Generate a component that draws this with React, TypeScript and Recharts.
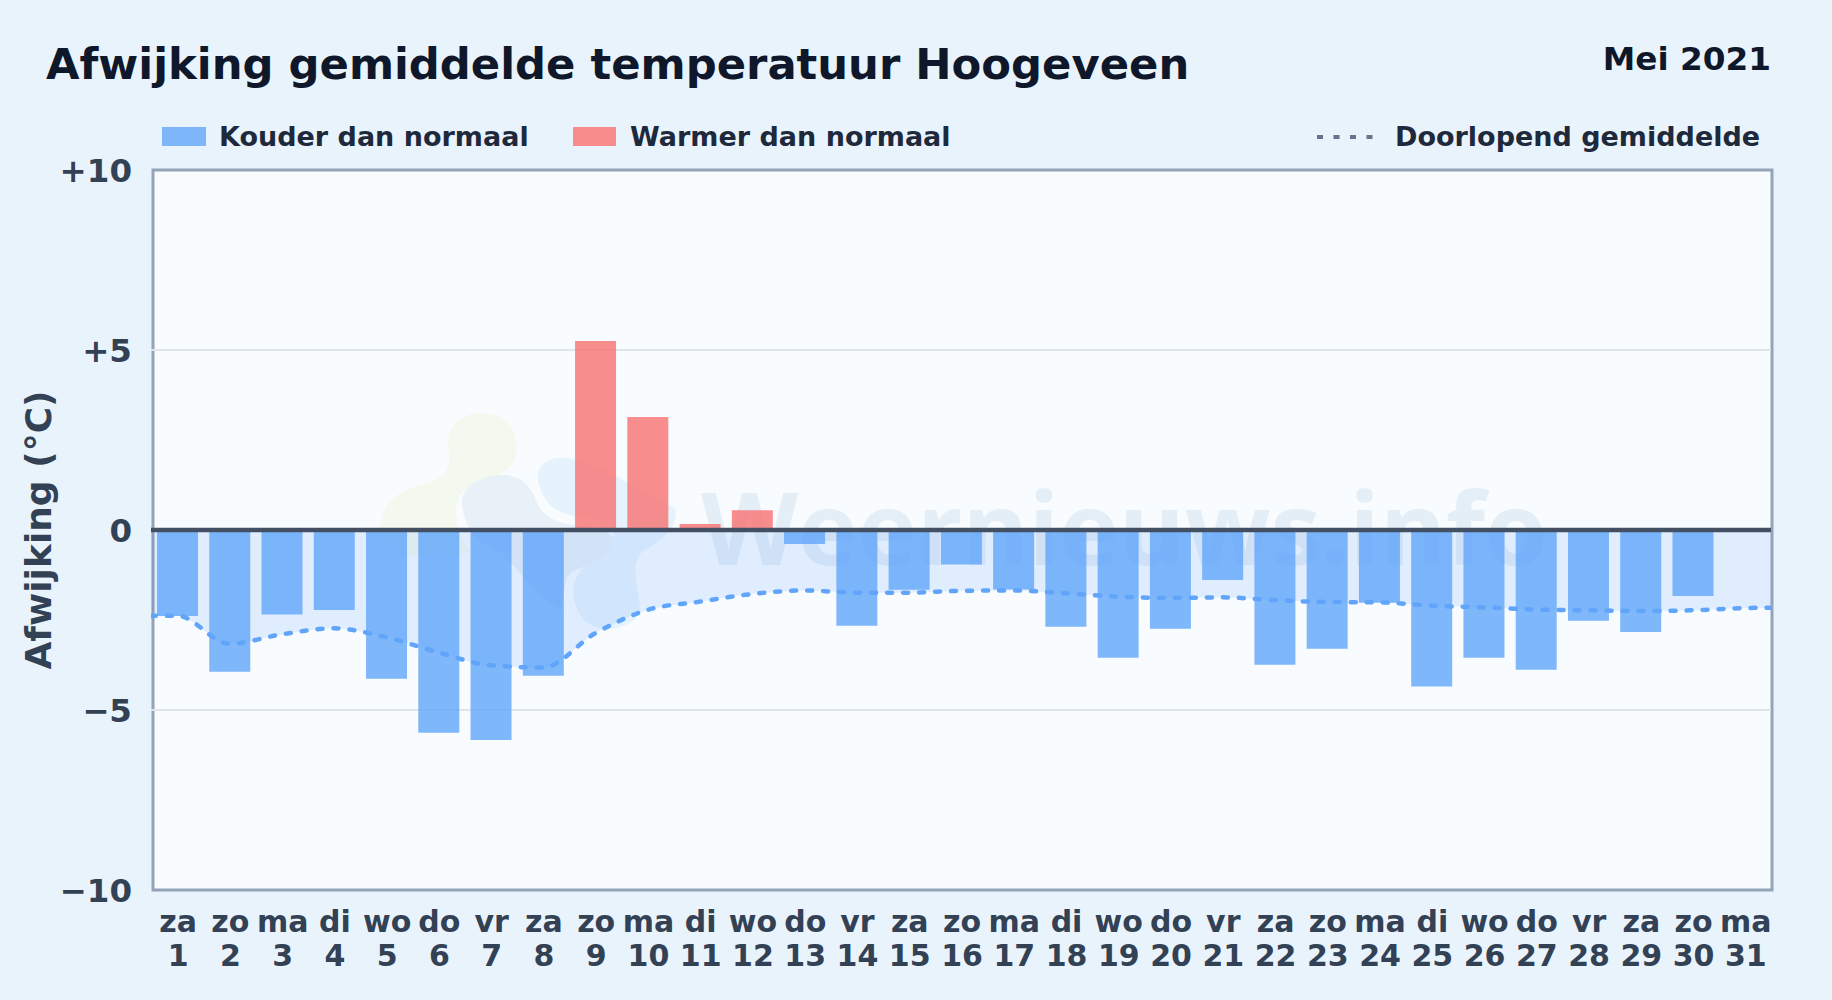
import { Area, Bar, CartesianGrid, Cell, ComposedChart, Line, ReferenceLine, XAxis, YAxis } from "recharts"

const days = [1, 2, 3, 4, 5, 6, 7, 8, 9, 10, 11, 12, 13, 14, 15, 16, 17, 18, 19, 20, 21, 22, 23, 24, 25, 26, 27, 28, 29, 30, 31]
const weekdays = ["za", "zo", "ma", "di", "wo", "do", "vr", "za", "zo", "ma", "di", "wo", "do", "vr", "za", "zo", "ma", "di", "wo", "do", "vr", "za", "zo", "ma", "di", "wo", "do", "vr", "za", "zo", "ma"]
const deviation = [-2.39, -3.94, -2.35, -2.22, -4.13, -5.63, -5.83, -4.05, 5.25, 3.14, 0.17, 0.55, -0.39, -2.66, -1.66, -0.96, -1.65, -2.69, -3.55, -2.74, -1.39, -3.74, -3.3, -2.02, -4.35, -3.55, -3.88, -2.52, -2.83, -1.83, null]
const runningMean = [-2.38, -3.16, -2.9, -2.73, -2.98, -3.4, -3.76, -3.82, -2.87, -2.22, -1.99, -1.78, -1.68, -1.74, -1.74, -1.69, -1.68, -1.76, -1.85, -1.89, -1.87, -1.95, -2.0, -2.01, -2.1, -2.15, -2.21, -2.23, -2.25, -2.23, -2.17]
// the mean runs past the plot edges and gets clipped there
const meanBefore = -2.4
const meanAfter = -2.15
const yTicks = [-10, -5, 0, 5, 10]

const chartData = [
  { day: 0, deviation: null, mean: meanBefore },
  ...days.map((day, i) => ({ day, deviation: deviation[i], mean: runningMean[i] })),
  { day: 32, deviation: null, mean: meanAfter },
]

const font = "'DejaVu Sans', sans-serif"
const formatY = (v: number) => (v > 0 ? `+${v}` : v < 0 ? `\u2212${Math.abs(v)}` : "0")

function DayTick({ x, y, payload }: any) {
  const i = days.indexOf(payload.value)
  if (i < 0) return null
  return (
    <text x={x + 1} y={y} textAnchor="middle" fontFamily={font} fontWeight={700} fontSize={30} fill="#334155">
      <tspan x={x + 1} y={y + 40}>{weekdays[i]}</tspan>
      <tspan x={x + 1} y={y + 74}>{days[i]}</tspan>
    </text>
  )
}

// chart title, legend, plot background and the faint watermark
function Backdrop() {
  return (
    <svg width={1832} height={1000} style={{ position: "absolute", left: 0, top: 0 }} fontFamily={font} fontWeight={700}>
      <rect width={1832} height={1000} fill="#e9f3fc" />
      <text x={46} y={79} fontSize={43.3} fill="#0f172a">Afwijking gemiddelde temperatuur Hoogeveen</text>
      <text x={1771} y={70} fontSize={32.7} fill="#0f172a" textAnchor="end">Mei 2021</text>

      <rect x={162} y={127} width={44} height={19} fill="#7eb6fb" />
      <text x={219} y={146} fontSize={27} fill="#1e293b">Kouder dan normaal</text>
      <rect x={573} y={127} width={43} height={19} fill="#f88c8d" />
      <text x={630} y={146} fontSize={27} fill="#1e293b">Warmer dan normaal</text>
      <line x1={1317} y1={137} x2={1373} y2={137} stroke="#64748b" strokeWidth={4} strokeDasharray="6 10.5" />
      <text x={1395} y={146} fontSize={27} fill="#1e293b">Doorlopend gemiddelde</text>

      <text transform="rotate(-90 51 530)" x={51} y={530} textAnchor="middle" fontSize={36} fill="#334155">Afwijking (°C)</text>

      <rect x={153} y={170} width={1619} height={720} fill="#f8fcff" stroke="#94a3b8" strokeWidth={3} />

      <path d="M380,540 C376,508 395,490 425,484 C448,478 452,465 448,448 C446,426 462,413 482,413 C508,413 520,432 516,456 C510,478 480,480 462,492 C452,505 455,530 470,552 C440,560 392,560 380,540 Z" fill="#f4f9ef" />
      <path d="M462,505 C460,485 485,474 505,475 C526,477 532,490 538,505 C546,520 566,526 590,527 C614,530 622,545 612,556 C600,566 585,564 572,572 C560,582 566,604 560,610 C530,590 520,570 500,552 C480,545 465,530 462,505 Z" fill="#e8f0f8" />
      <path d="M538,480 C536,462 552,456 568,458 C600,464 640,490 675,508 C680,526 662,540 642,552 C628,566 640,590 640,612 C630,632 596,634 582,618 C570,600 570,578 586,566 C604,556 620,545 612,522 C590,516 566,520 550,505 C544,498 540,490 538,480 Z" fill="#e6f3fd" />
      <text x={701} y={565} fontFamily="'Open Sans', sans-serif" fontWeight={700} fontSize={100.5} fill="#b9cfe6" opacity={0.3}>Weernieuws.info</text>
    </svg>
  )
}

export default function App() {
  return (
    <div style={{ position: "absolute", left: 0, top: 0, width: 1832, height: 1000 }}>
      <Backdrop />
      <div style={{ position: "absolute", left: 0, top: 0 }}>
        <ComposedChart width={1832} height={1000} data={chartData} margin={{ top: 170, right: 61, bottom: 0, left: 0 }}>
          <CartesianGrid vertical={false} horizontalValues={[-5, 5]} stroke="#e0e5e9" strokeWidth={2} />
          <XAxis
            dataKey="day"
            type="number"
            domain={[0.5, 31.5]}
            allowDataOverflow
            ticks={days}
            interval={0}
            height={110}
            axisLine={false}
            tickLine={false}
            tickSize={0}
            tick={<DayTick />}
          />
          <YAxis
            domain={[-10, 10]}
            ticks={yTicks}
            width={151}
            axisLine={false}
            tickLine={false}
            tickSize={0}
            tickMargin={19}
            tickFormatter={formatY}
            tick={{ fontFamily: font, fontWeight: 700, fontSize: 32.5, fill: "#334155" }}
          />
          <Area dataKey="mean" type="monotone" baseValue={0} fill="#3b82f6" fillOpacity={0.12} stroke="none" isAnimationActive={false} />
          <Bar dataKey="deviation" barSize={41} isAnimationActive={false}>
            {chartData.map((row) => (
              <Cell key={row.day} fill={(row.deviation ?? 0) > 0 ? "#f87171" : "#60a5fa"} fillOpacity={0.8} />
            ))}
          </Bar>
          <ReferenceLine y={0} stroke="#434f63" strokeWidth={4.5} />
          <Line dataKey="mean" type="monotone" stroke="#60a5fa" strokeWidth={4.5} strokeDasharray="5 11" strokeDashoffset={6} strokeLinecap="round" dot={false} activeDot={false} isAnimationActive={false} />
        </ComposedChart>
      </div>
    </div>
  )
}
